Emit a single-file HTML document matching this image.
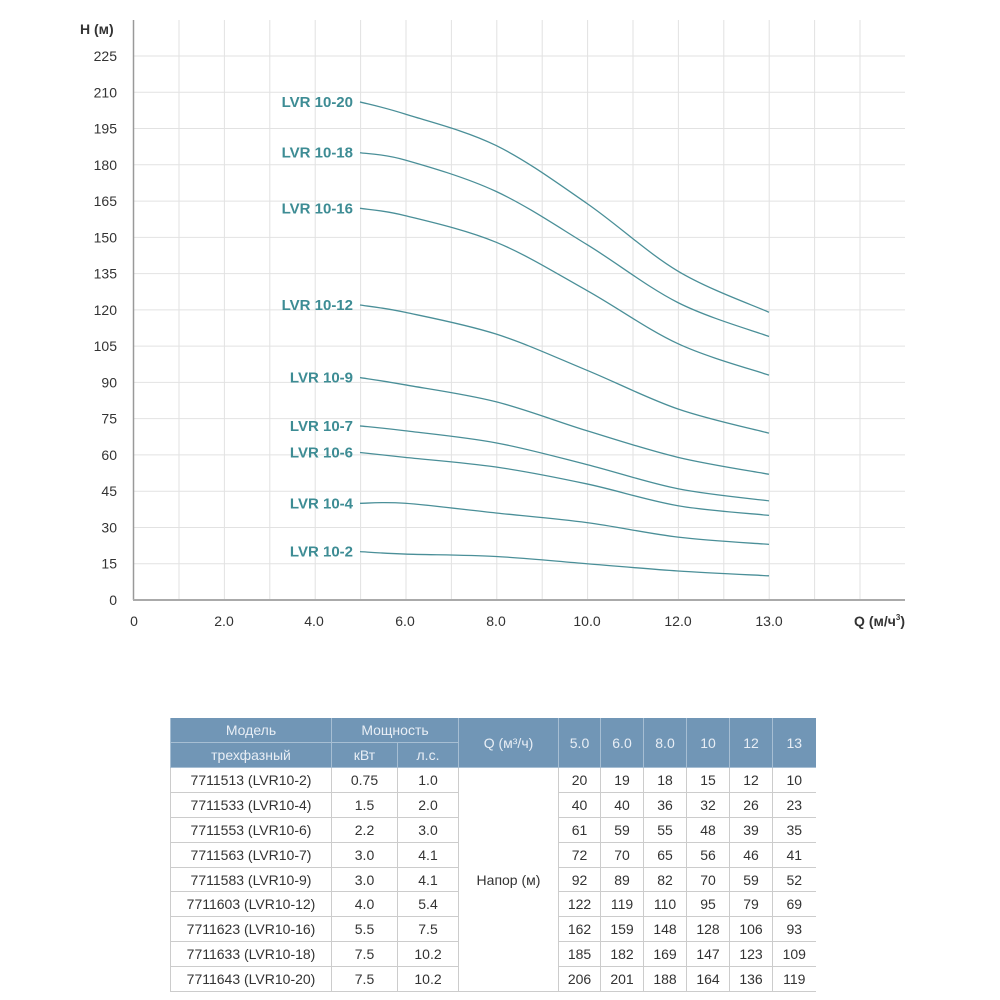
<!DOCTYPE html>
<html><head><meta charset="utf-8"><style>
body{margin:0;background:#fff;width:1000px;height:1000px;overflow:hidden;font-family:"Liberation Sans",sans-serif}
table{position:absolute;left:170px;top:718px;border-collapse:collapse;font-family:"Liberation Sans",sans-serif;font-size:14px;color:#333}
td{text-align:center;height:23.9px;padding:0;border-left:1px solid #ccc;border-bottom:1px solid #ccc}
tr.h td{background:#7196b6;color:#e8eef5;border-left:1px solid #a6bed3;border-bottom:1px solid #a6bed3;height:24px}
</style></head><body>
<svg id="s" width="1000" height="700" style="position:absolute;left:0;top:0" font-family="Liberation Sans, sans-serif"></svg>
<table>
<colgroup><col style="width:161px"><col style="width:66px"><col style="width:61px"><col style="width:100px"><col style="width:42px"><col style="width:43px"><col style="width:43px"><col style="width:43px"><col style="width:43px"><col style="width:43px"></colgroup>
<tr class="h"><td>Модель</td><td colspan="2">Мощность</td><td rowspan="2">Q (м³/ч)</td><td rowspan="2">5.0</td><td rowspan="2">6.0</td><td rowspan="2">8.0</td><td rowspan="2">10</td><td rowspan="2">12</td><td rowspan="2">13</td></tr>
<tr class="h"><td>трехфазный</td><td>кВт</td><td>л.с.</td></tr>
<tr><td>7711513 (LVR10-2)</td><td>0.75</td><td>1.0</td><td rowspan="9">Напор (м)</td><td>20</td><td>19</td><td>18</td><td>15</td><td>12</td><td>10</td></tr>
<tr><td>7711533 (LVR10-4)</td><td>1.5</td><td>2.0</td><td>40</td><td>40</td><td>36</td><td>32</td><td>26</td><td>23</td></tr>
<tr><td>7711553 (LVR10-6)</td><td>2.2</td><td>3.0</td><td>61</td><td>59</td><td>55</td><td>48</td><td>39</td><td>35</td></tr>
<tr><td>7711563 (LVR10-7)</td><td>3.0</td><td>4.1</td><td>72</td><td>70</td><td>65</td><td>56</td><td>46</td><td>41</td></tr>
<tr><td>7711583 (LVR10-9)</td><td>3.0</td><td>4.1</td><td>92</td><td>89</td><td>82</td><td>70</td><td>59</td><td>52</td></tr>
<tr><td>7711603 (LVR10-12)</td><td>4.0</td><td>5.4</td><td>122</td><td>119</td><td>110</td><td>95</td><td>79</td><td>69</td></tr>
<tr><td>7711623 (LVR10-16)</td><td>5.5</td><td>7.5</td><td>162</td><td>159</td><td>148</td><td>128</td><td>106</td><td>93</td></tr>
<tr><td>7711633 (LVR10-18)</td><td>7.5</td><td>10.2</td><td>185</td><td>182</td><td>169</td><td>147</td><td>123</td><td>109</td></tr>
<tr><td>7711643 (LVR10-20)</td><td>7.5</td><td>10.2</td><td>206</td><td>201</td><td>188</td><td>164</td><td>136</td><td>119</td></tr>
</table>
<script>
var s=document.getElementById('s'),h='';
function Y(v){return 600-v*544/225;}
for(var x=179;x<=860;x+=45.4)h+='<line x1="'+x+'" y1="20" x2="'+x+'" y2="600" stroke="#e2e2e2"/>';
for(var v=15;v<=225;v+=15)h+='<line x1="134" y1="'+Y(v)+'" x2="905" y2="'+Y(v)+'" stroke="#e2e2e2"/>';
for(var v=0;v<=225;v+=15)h+='<text x="117" y="'+(Y(v)+5)+'" font-size="14" fill="#333" text-anchor="end">'+v+'</text>';
h+='<line x1="133.5" y1="20" x2="133.5" y2="600" stroke="#999" stroke-width="1.5"/>';
h+='<line x1="133" y1="600" x2="905" y2="600" stroke="#aaa" stroke-width="2"/>';
h+='<text x="80" y="34" font-size="14" font-weight="bold" fill="#333">H (м)</text>';
var xl=[[134,'0'],[224,'2.0'],[314,'4.0'],[405,'6.0'],[496,'8.0'],[587,'10.0'],[678,'12.0'],[769,'13.0']];
xl.forEach(function(a){h+='<text x="'+a[0]+'" y="626" font-size="14" fill="#333" text-anchor="middle">'+a[1]+'</text>';});
h+='<text x="905" y="626" font-size="14" font-weight="bold" fill="#333" text-anchor="end">Q (м/ч<tspan font-size="8" dy="-6">3</tspan><tspan dy="6">)</tspan></text>';
var X=[360,405,496,587,678,769];
var D=[[20,19,18,15,12,10,'LVR 10-2'],[40,40,36,32,26,23,'LVR 10-4'],[61,59,55,48,39,35,'LVR 10-6'],[72,70,65,56,46,41,'LVR 10-7'],[92,89,82,70,59,52,'LVR 10-9'],[122,119,110,95,79,69,'LVR 10-12'],[162,159,148,128,106,93,'LVR 10-16'],[185,182,169,147,123,109,'LVR 10-18'],[206,201,188,164,136,119,'LVR 10-20']];
D.forEach(function(d){
 var p=X.map(function(x,i){return [x,Y(d[i])];});
 var path='M'+p[0][0]+','+p[0][1];
 for(var i=0;i<p.length-1;i++){
  var p0=p[i-1]||p[i],p1=p[i],p2=p[i+1],p3=p[i+2]||p[i+1];
  var c1=[p1[0]+(p2[0]-p0[0])/6,p1[1]+(p2[1]-p0[1])/6],c2=[p2[0]-(p3[0]-p1[0])/6,p2[1]-(p3[1]-p1[1])/6];
  path+=' C'+c1+' '+c2+' '+p2;
 }
 h+='<path d="'+path+'" fill="none" stroke="#4a8f98" stroke-width="1.3"/>';
 h+='<text x="353" y="'+(Y(d[0])+5)+'" font-size="15" font-weight="bold" fill="#3d8c94" text-anchor="end">'+d[6]+'</text>';
});
s.innerHTML=h;
</script>
</body></html>
